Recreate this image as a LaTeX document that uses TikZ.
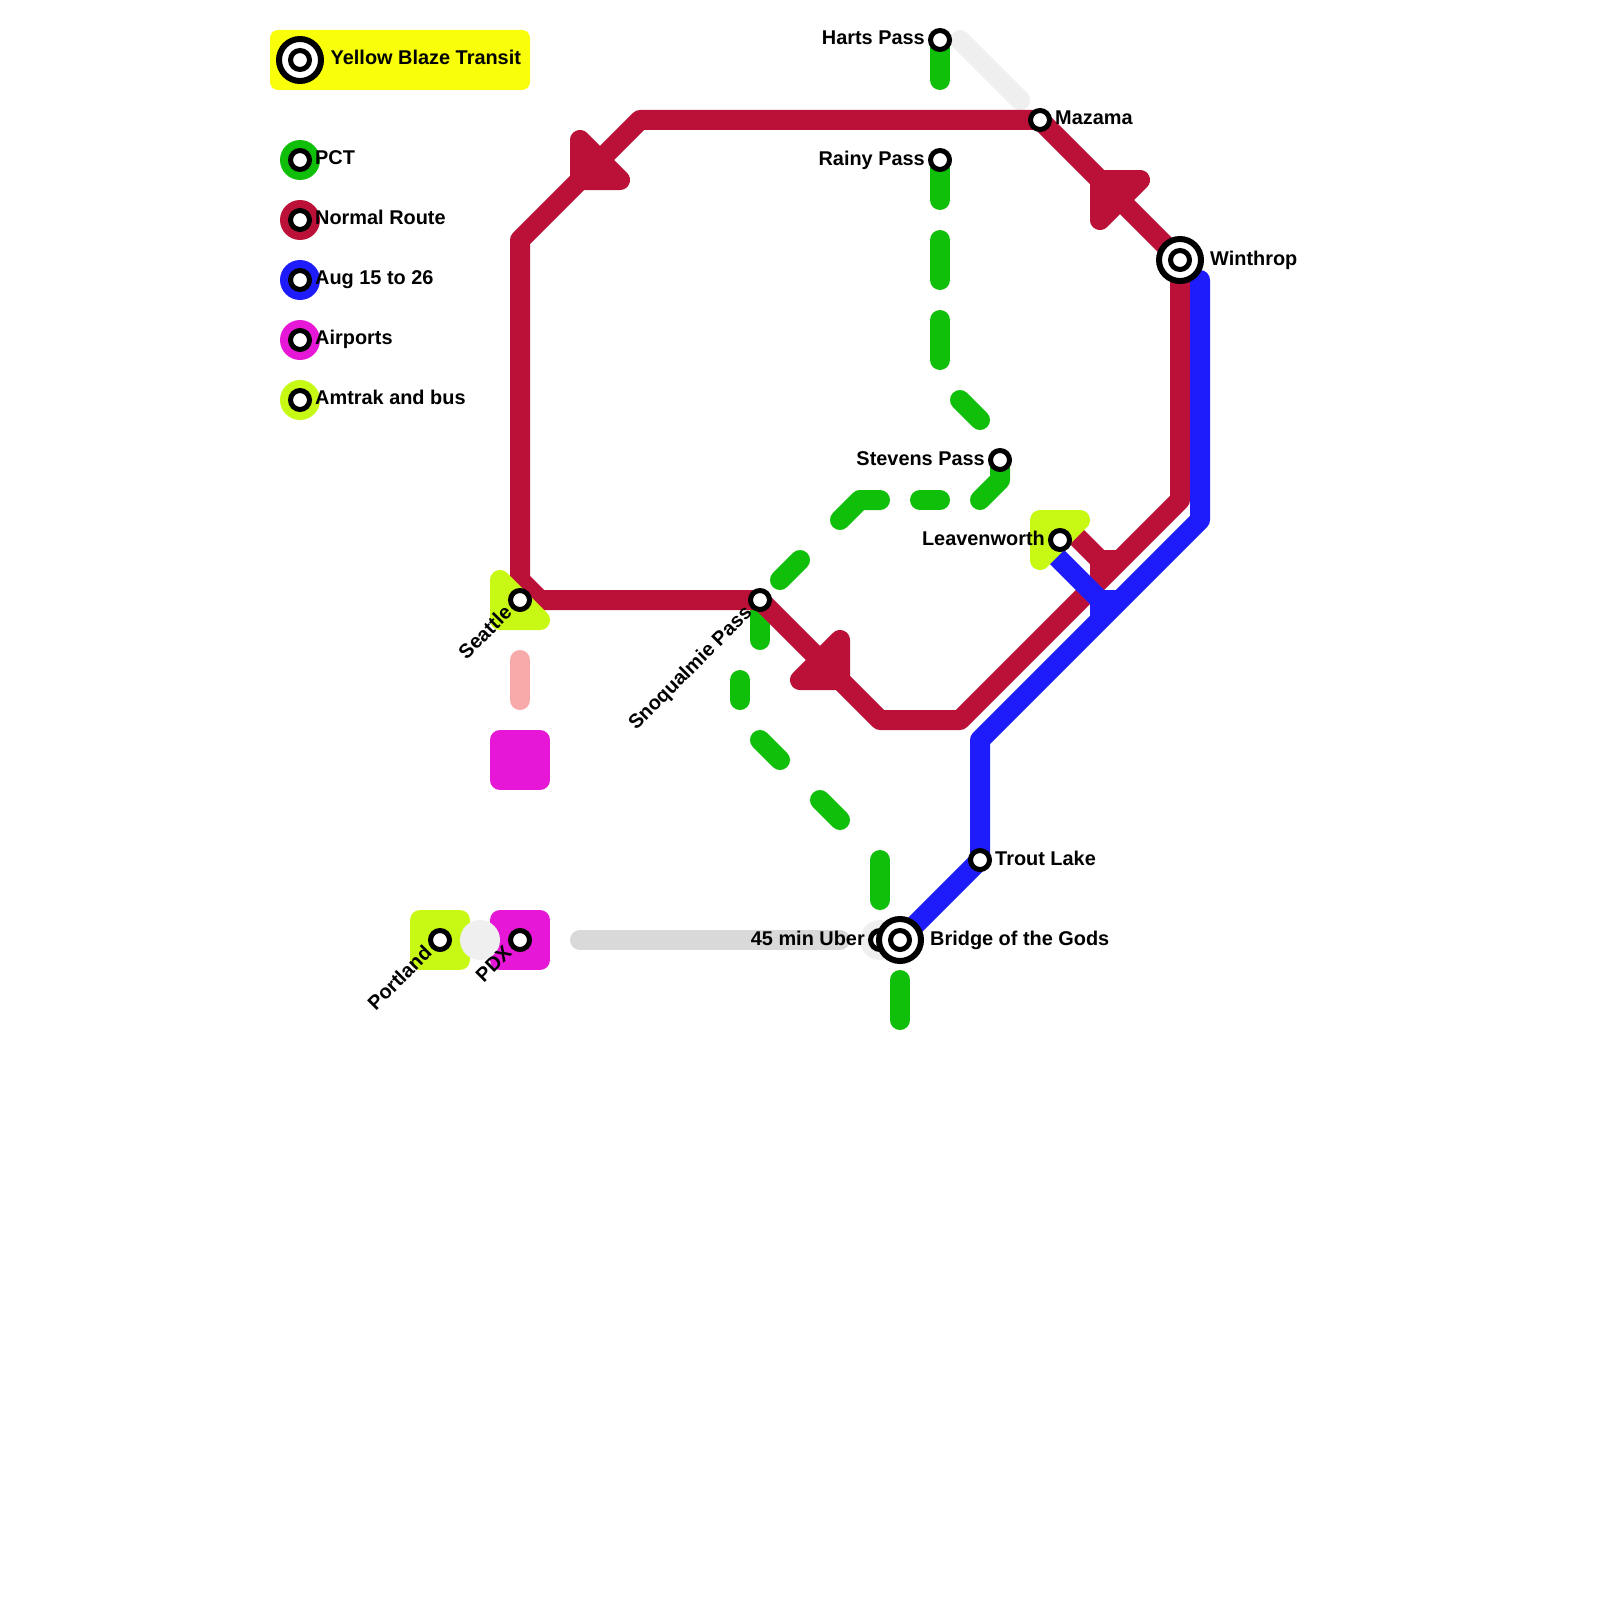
\documentclass[tikz,border=0pt]{standalone}
\usepackage{fontspec}
\setmainfont{Liberation Sans}
\usetikzlibrary{calc}
\definecolor{Blaze}{HTML}{F9FF0A}
\definecolor{Pct}{HTML}{0FBF0A}
\definecolor{Normal}{HTML}{BB1138}
\definecolor{Aug}{HTML}{1E1CFB}
\definecolor{Airport}{HTML}{E617D6}
\definecolor{Amtrak}{HTML}{C7F915}
\definecolor{Shuttle}{HTML}{F8AAAA}
\definecolor{Uber}{HTML}{D9D9D9}
\definecolor{Walk}{HTML}{EFEFEF}
\tikzset{
    route/.style={line width=20, line cap=round, line join=round},
    blob/.style={line width=20, line join=round},
    lab/.style={font=\bfseries\fontsize{19.9}{24}\selectfont, inner sep=0pt, text=black},
}
\NewDocumentCommand{\StationSmall}{O{(0,0)}}{
    \begin{scope}[shift={#1}]
    \draw[black, line width=5, fill=white] (0,0) circle (9.5);
    \end{scope}
}
\NewDocumentCommand{\StationBig}{O{(0,0)}}{
    \begin{scope}[shift={#1}]
    \draw[black, line width=6, fill=white] (0,0) circle (21);
    \draw[black, line width=5, fill=white] (0,0) circle (9.5);
    \end{scope}
}
\NewDocumentCommand{\KeyDot}{O{(0,0)} m}{
    \begin{scope}[shift={#1}]
    \fill[#2] (0,0) circle (20);
    \draw[black, line width=5, fill=white] (0,0) circle (9.5);
    \end{scope}
}
\newcommand{\Canvas}{
\useasboundingbox (0,0) rectangle (1600,1600);

\coordinate (harts) at (940,40);
\coordinate (mazama) at (1040,120);
\coordinate (rainy) at (940,160);
\coordinate (winthrop) at (1180,260);
\coordinate (stevens) at (1000,460);
\coordinate (leavenworth) at (1060,540);
\coordinate (seattle) at (520,600);
\coordinate (snoqualmie) at (760,600);
\coordinate (trout) at (980,860);
\coordinate (uber) at (880,940);
\coordinate (bridge) at (900,940);
\coordinate (portland) at (440,940);
\coordinate (pdx) at (520,940);

\coordinate (logo) at (300,60);
\coordinate (key-pct) at (300,160);
\coordinate (key-normal) at (300,220);
\coordinate (key-aug) at (300,280);
\coordinate (key-airport) at (300,340);
\coordinate (key-amtrak) at (300,400);
}

\begin{document}
\begin{tikzpicture}[x=1pt, y=-1pt]
\Canvas

% legend
\fill[Blaze, rounded corners=8] (270,30) rectangle (530,90);
\StationBig[(logo)]
\node[lab, anchor=base west] (logo-label) at (330.5,64.7) {Yellow Blaze Transit};
\KeyDot[(key-pct)]{Pct}
\KeyDot[(key-normal)]{Normal}
\KeyDot[(key-aug)]{Aug}
\KeyDot[(key-airport)]{Airport}
\KeyDot[(key-amtrak)]{Amtrak}
\node[lab, anchor=base west] (pct-label) at ($(key-pct)+(15,4.7)$) {PCT};
\node[lab, anchor=base west] (normal-label) at ($(key-normal)+(15,4.7)$) {Normal Route};
\node[lab, anchor=base west] (aug-label) at ($(key-aug)+(15,4.7)$) {Aug 15 to 26};
\node[lab, anchor=base west] (airport-label) at ($(key-airport)+(15,4.7)$) {Airports};
\node[lab, anchor=base west] (amtrak-label) at ($(key-amtrak)+(15,4.7)$) {Amtrak and bus};

% walking and uber links
\draw[route, Walk] (960,40) -- (1020,100);
\fill[Walk] (uber) circle (20);
\draw[route, Uber] (580,940) -- (840,940);
\draw[route, Shuttle] (520,660) -- (520,700);

% pct
\draw[route, Pct] (harts) -- (940,80);
\draw[route, Pct] (rainy) -- (940,200);
\draw[route, Pct] (940,240) -- (940,280);
\draw[route, Pct] (940,320) -- (940,360);
\draw[route, Pct] (960,400) -- (980,420);
\draw[route, Pct] (stevens) -- (1000,480) -- (980,500);
\draw[route, Pct] (920,500) -- (940,500);
\draw[route, Pct] (880,500) -- (860,500) -- (840,520);
\draw[route, Pct] (800,560) -- (780,580);
\draw[route, Pct] (snoqualmie) -- (760,640);
\draw[route, Pct] (740,680) -- (740,700);
\draw[route, Pct] (760,740) -- (780,760);
\draw[route, Pct] (820,800) -- (840,820);
\draw[route, Pct] (880,860) -- (880,900);
\draw[route, Pct] (900,980) -- (900,1020);

% normal route
\draw[route, Normal] (mazama) -- (640,120) -- (520,240) -- (520,580) -- (540,600) -- (snoqualmie)
    -- (880,720) -- (960,720) -- (1180,500) -- (winthrop) -- cycle;
\draw[route, Normal, line cap=butt] (1060,520) -- (1100,560) -- (1120,560);
\draw[route, Normal, line cap=butt] (1100,560) -- (1100,580);
\draw[blob, Normal, fill=Normal] (580,140) -- (580,180) -- (620,180) -- cycle;
\draw[blob, Normal, fill=Normal] (1100,180) -- (1140,180) -- (1100,220) -- cycle;
\draw[blob, Normal, fill=Normal] (840,640) -- (840,680) -- (800,680) -- cycle;

% august route
\draw[route, Aug] (1200,280) -- (1200,520) -- (980,740) -- (trout) -- (bridge);
\draw[route, Aug, line cap=butt] (1040,540) -- (1100,600) -- (1120,600);
\draw[route, Aug, line cap=butt] (1100,600) -- (1100,620);

% airport and amtrak blocks
\draw[blob, Amtrak, fill=Amtrak] (500,580) -- (500,620) -- (540,620) -- cycle;
\draw[blob, Amtrak, fill=Amtrak] (1040,520) -- (1080,520) -- (1040,560) -- cycle;
\draw[blob, Amtrak, fill=Amtrak] (420,920) -- (420,960) -- (460,960) -- (460,920) -- cycle;
\draw[blob, Airport, fill=Airport] (500,920) -- (500,960) -- (540,960) -- (540,920) -- cycle;
\draw[blob, Airport, fill=Airport] (500,740) -- (500,780) -- (540,780) -- (540,740) -- cycle;
\fill[Walk] (480,940) circle (20);

% stations
\StationSmall[(harts)]
\StationSmall[(mazama)]
\StationSmall[(rainy)]
\StationBig[(winthrop)]
\StationSmall[(stevens)]
\StationSmall[(leavenworth)]
\StationSmall[(seattle)]
\StationSmall[(snoqualmie)]
\StationSmall[(trout)]
\StationSmall[(uber)]
\StationBig[(bridge)]
\StationSmall[(portland)]
\StationSmall[(pdx)]

% labels
\node[lab, anchor=base east] (harts-label) at ($(harts)+(-15,5)$) {Harts Pass};
\node[lab, anchor=base west] (mazama-label) at ($(mazama)+(15,4.7)$) {Mazama};
\node[lab, anchor=base east] (rainy-label) at ($(rainy)+(-15,5)$) {Rainy Pass};
\node[lab, anchor=base west] (winthrop-label) at ($(winthrop)+(30,5)$) {Winthrop};
\node[lab, anchor=base east] (stevens-label) at ($(stevens)+(-15,5)$) {Stevens Pass};
\node[lab, anchor=base east] (leavenworth-label) at ($(leavenworth)+(-15,5)$) {Leavenworth};
\node[lab, anchor=base west] (trout-label) at ($(trout)+(15,5)$) {Trout Lake};
\node[lab, anchor=base east] (uber-label) at ($(uber)+(-15,5)$) {45 min Uber};
\node[lab, anchor=base west] (bridge-label) at ($(bridge)+(30,5)$) {Bridge of the Gods};
\node[lab, anchor=base east, rotate=45] (seattle-label) at ($(seattle)+(-7,14)$) {Seattle};
\node[lab, anchor=base east, rotate=45] (snoqualmie-label) at ($(snoqualmie)+(-7,14)$) {Snoqualmie Pass};
\node[lab, anchor=base east, rotate=45] (portland-label) at ($(portland)+(-7,14)$) {Portland};
\node[lab, anchor=base east, rotate=45] (pdx-label) at ($(pdx)+(-7,14)$) {PDX};
\end{tikzpicture}
\end{document}
